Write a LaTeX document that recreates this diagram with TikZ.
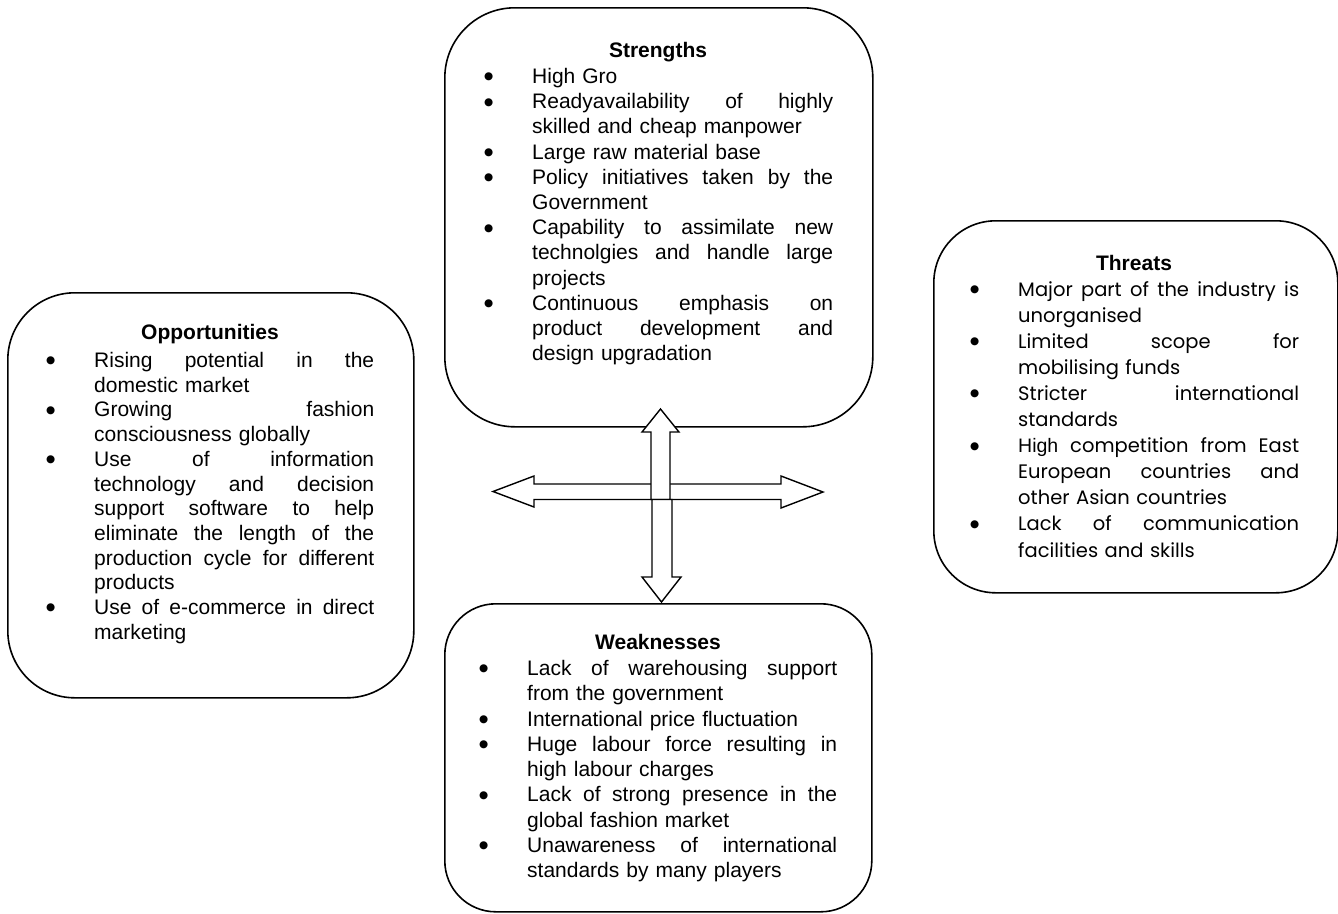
\documentclass[tikz,border=0pt]{standalone}
\usepackage{fontspec}
\setmainfont{Liberation Sans}
\newfontfamily\gothic{Poppins}
\newfontfamily\dvs{DejaVu Sans}
\newlength\bsep
\setlength\bsep{48.2pt}
\newcommand\J[1]{\makebox[\hsize][s]{\spaceskip=\fontdimen2\font plus 1fil minus \fontdimen4\font\relax #1}}
\newcommand\B{\leavevmode\llap{\makebox[\bsep][l]{\raisebox{3.6pt}{\dvs\fontsize{10.5}{10.5}\selectfont ●}}}}
\begin{document}
\begin{tikzpicture}[x=1pt,y=-1pt,
  box/.style={draw, line width=1.6pt, anchor=north west, inner sep=0pt},
  ttl/.style={font=\bfseries\fontsize{21}{25}\selectfont, anchor=base, inner sep=0pt},
  items/.style={align=left, anchor=base west, inner sep=0pt},
  arr/.style={draw, fill=white, line width=1.4pt, line join=miter}]
\useasboundingbox (0,0) rectangle (1338,913);
% boxes
\node[box, minimum width=428pt, minimum height=419pt, rounded corners=70pt] (S) at (444,7) {};
\node[box, minimum width=406pt, minimum height=405pt, rounded corners=67pt] (O) at (7,292) {};
\node[box, minimum width=404pt, minimum height=372pt, rounded corners=62pt] (T) at (933,220) {};
\node[box, minimum width=427pt, minimum height=308pt, rounded corners=51pt] (W) at (444,603) {};
% arrows
\path[arr] (493,491.5) -- (534,476) -- (534,484) -- (781,484) -- (781,476) -- (823,492)
  -- (781,508) -- (781,499.5) -- (534,499.5) -- (534,507) -- cycle;
\path[arr] (660.5,409) -- (679,432) -- (670,432) -- (670,499.5) -- (651,499.5) -- (651,432) -- (642,432) -- cycle;
\path[arr] (652,499.5) -- (672,499.5) -- (672,577) -- (681,577) -- (661.5,602) -- (642,577) -- (652,577) -- cycle;
% Strengths
\node[ttl] (st) at (658,57.5) {Strengths};
\node[items, text width=301pt, font=\fontsize{21}{25.2}\selectfont] (si) at (532,83.5) {%
\B High Gro\\
\B\J{Readyavailability of highly}\\
skilled and cheap manpower\\
\B Large raw material base\\
\B\J{Policy initiatives taken by the}\\
Government\\
\B\J{Capability to assimilate new}\\
\J{technolgies and handle large}\\
projects\\
\B\J{Continuous emphasis on}\\
\J{product development and}\\
design upgradation};
% Opportunities
\node[ttl] (ot) at (210,339.5) {Opportunities};
\node[items, text width=280pt, font=\fontsize{21}{24.7}\selectfont] (oi) at (94,367.5) {%
\B\J{Rising potential in the}\\
domestic market\\
\B\J{Growing fashion}\\
consciousness globally\\
\B\J{Use of information}\\
\J{technology and decision}\\
\J{support software to help}\\
\J{eliminate the length of the}\\
\J{production cycle for different}\\
products\\
\B\J{Use of e-commerce in direct}\\
marketing};
% Threats
\node[ttl] (tt) at (1134,270.5) {Threats};
\node[items, text width=281pt, font=\gothic\fontsize{19.5}{26.1}\selectfont] (ti) at (1018,296) {%
\B\J{Major part of the industry is}\\
unorganised\\
\B\J{Limited scope for}\\
mobilising funds\\
\B\J{Stricter international}\\
standards\\
\B\J{{\rmfamily High} competition from East}\\
\J{European countries and}\\
other Asian countries\\
\B\J{Lack of communication}\\
facilities and skills};
% Weaknesses
\node[ttl] (wt) at (658,649.5) {Weaknesses};
\node[items, text width=310pt, font=\fontsize{21}{25.25}\selectfont] (wi) at (527,675.5) {%
\B\J{Lack of warehousing support}\\
from the government\\
\B International price fluctuation\\
\B\J{Huge labour force resulting in}\\
high labour charges\\
\B\J{Lack of strong presence in the}\\
global fashion market\\
\B\J{Unawareness of international}\\
standards by many players};
\end{tikzpicture}
\end{document}
